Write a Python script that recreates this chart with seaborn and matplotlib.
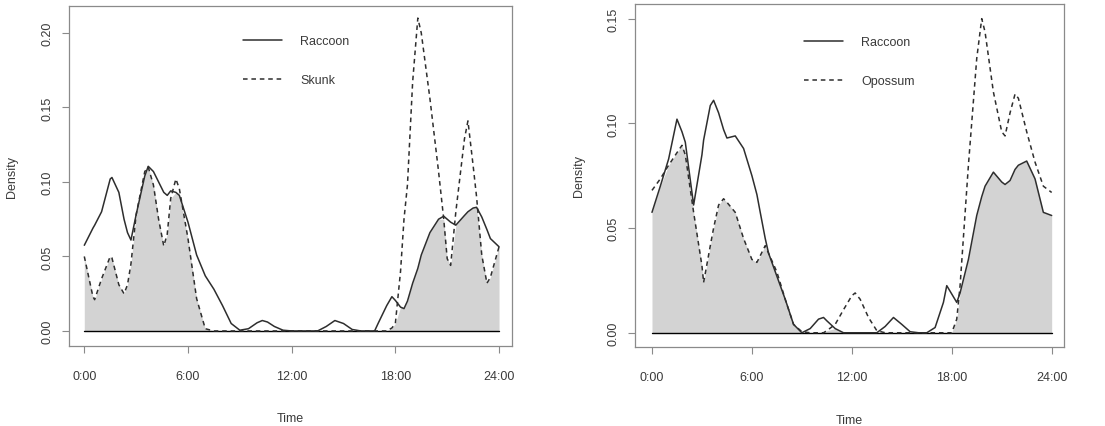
import numpy as np
import pandas as pd
import matplotlib
matplotlib.use("Agg")
import matplotlib.pyplot as plt
import seaborn as sns

sns.set_theme(style="white")
plt.rcParams['font.family'] = ['Liberation Sans', 'DejaVu Sans']
plt.rcParams['xtick.bottom'] = True
plt.rcParams['ytick.left'] = True

# ---------------- data ----------------
hours_left = [0, 0.5, 0.6, 1.0, 1.5, 1.6, 2.0, 2.3, 2.5, 2.7, 3.0, 3.5, 3.7, 4.0, 4.3,
              4.6, 4.8, 5.0, 5.3, 5.5, 6.0, 6.5, 7.0, 7.5, 8.0, 8.5, 9.0, 9.5, 10.0,
              10.3, 10.6, 11.0, 11.5, 12.0, 13.5, 14.0, 14.5, 15.0, 15.5, 16.0, 16.8,
              17.0, 17.5, 17.8, 18.0, 18.3, 18.5, 18.7, 19.0, 19.3, 19.5, 20.0, 20.5,
              20.8, 21.0, 21.2, 21.5, 22.0, 22.2, 22.5, 22.7, 23.0, 23.3, 23.5, 24.0]
raccoon_left = [0.0575, 0.069, 0.071, 0.080, 0.102, 0.103, 0.093, 0.075, 0.066, 0.061,
                0.078, 0.104, 0.1105, 0.107, 0.100, 0.093, 0.091, 0.094, 0.093, 0.091,
                0.073, 0.051, 0.037, 0.028, 0.017, 0.005, 0.0005, 0.0015, 0.0055, 0.007,
                0.006, 0.003, 0.0005, 0.0, 0.0, 0.003, 0.007, 0.005, 0.001, 0.0, 0.0,
                0.005, 0.017, 0.023, 0.0205, 0.016, 0.015, 0.020, 0.032, 0.042, 0.051,
                0.066, 0.075, 0.077, 0.075, 0.073, 0.071, 0.0775, 0.080, 0.0825, 0.083,
                0.0765, 0.068, 0.062, 0.0565]
skunk_left = [0.050, 0.023, 0.021, 0.035, 0.050, 0.049, 0.031, 0.025, 0.031, 0.045,
              0.078, 0.107, 0.110, 0.098, 0.075, 0.057, 0.065, 0.089, 0.102, 0.0955,
              0.062, 0.0217, 0.0015, 0.0, 0.0, 0.0, 0.0, 0.0, 0.0, 0.0,
              0.0, 0.0, 0.0, 0.0, 0.0, 0.0, 0.0, 0.0, 0.0, 0.0, 0.0,
              0.0, 0.0, 0.002, 0.005, 0.040, 0.075, 0.098, 0.167, 0.210, 0.200,
              0.156, 0.107, 0.075, 0.0485, 0.044, 0.080, 0.129, 0.141, 0.111, 0.090,
              0.051, 0.032, 0.036, 0.0565]

hours_right = [0, 0.5, 1.0, 1.5, 1.8, 2.0, 2.5, 3.0, 3.1, 3.5, 3.7, 4.0, 4.3, 4.5, 5.0,
               5.5, 6.0, 6.3, 6.5, 6.8, 7.0, 7.5, 8.0, 8.5, 9.0, 9.5, 10.0, 10.3, 10.5,
               11.0, 11.5, 12.0, 12.2, 12.5, 13.0, 13.5, 14.0, 14.5, 15.0, 15.5, 16.0,
               16.5, 17.0, 17.5, 17.7, 18.0, 18.3, 18.5, 19.0, 19.5, 19.8, 20.0, 20.5,
               21.0, 21.2, 21.5, 21.8, 22.0, 22.5, 23.0, 23.5, 24.0]
raccoon_right = [0.0575, 0.070, 0.083, 0.102, 0.096, 0.091, 0.061, 0.085, 0.092, 0.1085,
                 0.111, 0.105, 0.097, 0.093, 0.094, 0.088, 0.075, 0.066, 0.0575, 0.045,
                 0.038, 0.027, 0.016, 0.004, 0.0, 0.002, 0.0065, 0.0073, 0.0057,
                 0.002, 0.0, 0.0, 0.0, 0.0, 0.0, 0.0, 0.003, 0.0073, 0.004, 0.0005, 0.0,
                 0.0, 0.0025, 0.0145, 0.0225, 0.0185, 0.0145, 0.019, 0.035, 0.056, 0.065,
                 0.070, 0.0767, 0.072, 0.0708, 0.0727, 0.078, 0.080, 0.082, 0.0735,
                 0.0575, 0.056]
opossum_right = [0.068, 0.0735, 0.080, 0.086, 0.0895, 0.085, 0.0575, 0.032, 0.024, 0.0415,
                 0.050, 0.061, 0.064, 0.0623, 0.0575, 0.045, 0.035, 0.0336, 0.0368, 0.0416,
                 0.038, 0.029, 0.016, 0.004, 0.0005, 0.0, 0.0, 0.0, 0.001,
                 0.004, 0.011, 0.0177, 0.019, 0.016, 0.0073, 0.001, 0.0, 0.0, 0.0, 0.0, 0.0,
                 0.0, 0.0, 0.0, 0.0, 0.0, 0.0065, 0.0225, 0.080, 0.131, 0.150,
                 0.1436, 0.115, 0.096, 0.094, 0.105, 0.114, 0.112, 0.096, 0.0815,
                 0.070, 0.067]

x_ticks = [0, 6, 12, 18, 24]
x_tick_labels = ["0:00", "6:00", "12:00", "18:00", "24:00"]
y_ticks_left = [0.00, 0.05, 0.10, 0.15, 0.20]
y_ticks_right = [0.00, 0.05, 0.10, 0.15]
legend_left = ["Raccoon", "Skunk"]
legend_right = ["Raccoon", "Opossum"]

# ---------------- styles ----------------
W, H = 1105, 427
LINE = "#2e2e2e"
BOX = "#8a8a8a"
TXT = "#3a3a3a"
FILL = "#d3d3d3"
FS = 9

fig = plt.figure(figsize=(W / 100, H / 100), dpi=100)


def axes_px(left, right, top, bottom):
    return fig.add_axes([left / W, (H - bottom) / H, (right - left) / W, (bottom - top) / H])


def panel(ax, hours, a, b, names, yticks, xlim, ylim, leg_anchor):
    h = np.asarray(hours)
    a = np.asarray(a)
    b = np.asarray(b)
    ax.fill_between(h, 0, np.minimum(a, b), color=FILL, linewidth=0, zorder=1)
    ax.plot([h[0], h[-1]], [0, 0], color="black", lw=1.0, zorder=2)
    df = pd.DataFrame({"hour": np.concatenate([h, h]),
                       "density": np.concatenate([a, b]),
                       "species": [names[0]] * len(h) + [names[1]] * len(h)})
    sns.lineplot(data=df[df.species == names[0]], x="hour", y="density", ax=ax,
                 color=LINE, lw=1.1, estimator=None, sort=True, label=names[0], zorder=3)
    sns.lineplot(data=df[df.species == names[1]], x="hour", y="density", ax=ax,
                 color=LINE, lw=1.1, estimator=None, sort=True, label=names[1],
                 linestyle=(0, (3, 2.5)), zorder=3)
    ax.set_xlim(*xlim)
    ax.set_ylim(*ylim)
    ax.set_xticks(x_ticks)
    ax.set_xticklabels(x_tick_labels)
    ax.set_yticks(yticks)
    ax.set_yticklabels([f"{v:.2f}" for v in yticks], rotation=90, va="center")
    ax.tick_params(axis="both", which="major", bottom=True, left=True, direction="out",
                   length=5, width=0.8, color=BOX, labelsize=FS, labelcolor=TXT)
    ax.tick_params(axis="x", pad=12)
    ax.tick_params(axis="y", pad=6)
    for s in ax.spines.values():
        s.set_color(BOX)
        s.set_linewidth(0.9)
        s.set_visible(True)
    ax.set_xlabel("Time", fontsize=FS, color=TXT)
    ax.set_ylabel("Density", fontsize=FS, color=TXT)
    ax.xaxis.set_label_coords(0.5, -0.195)
    ax.yaxis.set_label_coords(-0.116, 0.5)
    leg = ax.legend(loc="upper left", bbox_to_anchor=leg_anchor, frameon=False,
                    fontsize=FS, handlelength=3.1, handletextpad=1.45, labelspacing=2.2,
                    borderpad=0, borderaxespad=0)
    for t in leg.get_texts():
        t.set_color(TXT)


ax1 = axes_px(69, 512, 7, 347)
panel(ax1, hours_left, raccoon_left, skunk_left, legend_left, y_ticks_left,
      (-0.885, 24.75), (-0.0101, 0.2181), (0.393, 0.915))

ax2 = axes_px(635, 1064, 5, 348)
panel(ax2, hours_right, raccoon_right, opossum_right, legend_right, y_ticks_right,
      (-1.02, 24.74), (-0.0068, 0.157), (0.394, 0.907))

fig.savefig("out.png", dpi=100)
